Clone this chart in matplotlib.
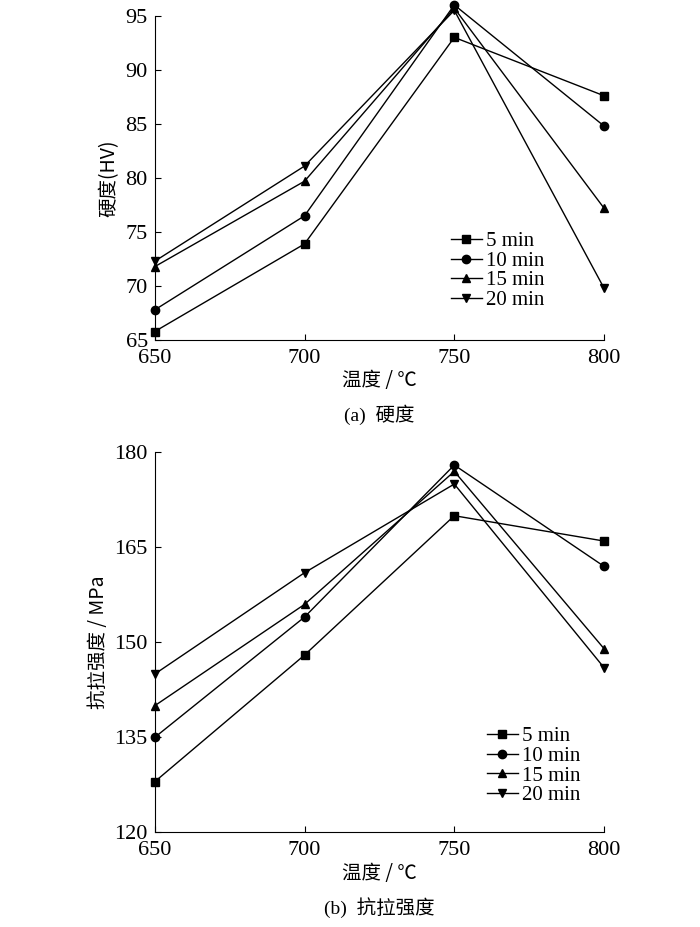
import matplotlib
matplotlib.use("Agg")
import matplotlib.pyplot as plt

plt.rcParams['font.family'] = ['Liberation Serif', 'Noto Sans CJK SC']
plt.rcParams['font.size'] = 16

temps = [650, 700, 750, 800]
labels = ["5 min", "10 min", "15 min", "20 min"]
markers = ["s", "o", "^", "v"]

hardness = [
    [65.8, 73.9, 93.0, 87.6],
    [67.8, 76.5, 96.0, 84.8],
    [71.8, 79.7, 95.7, 77.2],
    [72.3, 81.1, 95.5, 69.8],
]
strength = [
    [128, 148, 170, 166],
    [135, 154, 178, 162],
    [140, 156, 177, 149],
    [145, 161, 175, 146],
]

fig = plt.figure(figsize=(7, 9.27), dpi=100)
ax1 = fig.add_axes([0.221, 0.633, 0.642, 0.350])
ax2 = fig.add_axes([0.221, 0.102, 0.642, 0.410])


def draw(ax, data, ylim, yticks, ylabel, xlabel, caption, cap_y, legend_loc):
    for vals, lab, m in zip(data, labels, markers):
        ax.plot(temps, vals, color="black", lw=1, marker=m, markersize=6,
                label=lab, clip_on=False)
    ax.set_xlim(650, 800)
    ax.set_ylim(*ylim)
    ax.set_xticks(temps)
    ax.set_yticks(yticks)
    ax.spines["top"].set_visible(False)
    ax.spines["right"].set_visible(False)
    ax.tick_params(direction="in", length=4)
    ax.tick_params(axis="x", pad=6)
    ax.tick_params(axis="y", pad=5)
    ax.set_ylabel(ylabel, family=["Noto Sans CJK SC"], fontsize=14, labelpad=4)
    ax.set_xlabel(xlabel, family=["Noto Sans CJK SC"], fontsize=14, labelpad=2)
    ax.text(0.5, cap_y, caption, transform=ax.transAxes, ha="center",
            family=["Liberation Serif", "Noto Sans CJK SC"], fontsize=14)
    ax.legend(loc="upper left", bbox_to_anchor=legend_loc, frameon=False,
              handlelength=1.5, handletextpad=0.2, labelspacing=0.0,
              borderaxespad=0, fontsize=15)


draw(ax1, hardness, (65, 95), range(65, 96, 5), "硬度(HV)", "温度 / ℃",
     "(a)  硬度", -0.25, (0.64, 0.36))
draw(ax2, strength, (120, 180), range(120, 181, 15), "抗拉强度 / MPa", "温度 / ℃",
     "(b)  抗拉强度", -0.215, (0.72, 0.3))

fig.savefig("out.png")
